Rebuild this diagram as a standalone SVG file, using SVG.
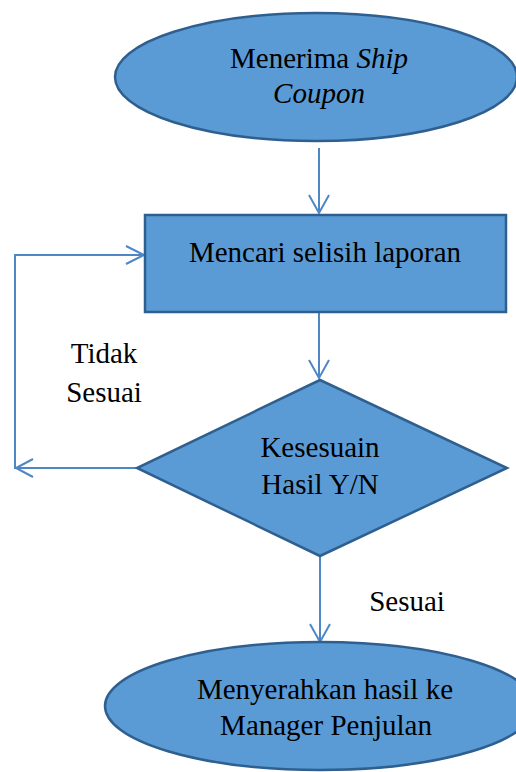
<svg xmlns="http://www.w3.org/2000/svg" width="516" height="772" viewBox="0 0 516 772">
  <style>
    .shape { fill: #5b9bd5; stroke: #2e5f8f; stroke-width: 2.5; }
    .conn { fill: none; stroke: #4f86c6; stroke-width: 2; }
    .head { fill: none; stroke: #4f86c6; stroke-width: 2; stroke-linejoin: miter; }
    .lbl { fill: #000; text-anchor: middle; }
  </style>

  <g font-family="'Liberation Serif', 'DejaVu Serif', serif" font-size="29">
  <!-- connectors -->
  <g id="connectors">
    <!-- start -> search -->
    <line class="conn" x1="319" y1="148" x2="319" y2="213"/>
    <polyline class="head" points="309,195 319,213 329,195"/>
    <!-- search -> decision -->
    <line class="conn" x1="319" y1="312" x2="319" y2="378"/>
    <polyline class="head" points="309,360 319,378 329,360"/>
    <!-- decision -> back to search (Tidak Sesuai) -->
    <polyline class="conn" points="137,468 15,468 15,255 144,255"/>
    <polyline class="head" points="33,459 16,468 33,477"/>
    <polyline class="head" points="126,246 144,255 126,264"/>
    <!-- decision -> handover (Sesuai) -->
    <line class="conn" x1="320" y1="557" x2="320" y2="642"/>
    <polyline class="head" points="310,624 320,642 330,624"/>
    <text class="lbl" x="104" y="363">Tidak</text>
    <text class="lbl" x="104" y="402">Sesuai</text>
    <text class="lbl" x="407" y="611">Sesuai</text>
  </g>

  <g id="start">
    <ellipse class="shape" cx="316" cy="77" rx="201" ry="64"/>
    <text class="lbl" x="319" y="68">Menerima <tspan font-style="italic">Ship</tspan></text>
    <text class="lbl" x="319" y="103" font-style="italic">Coupon</text>
  </g>

  <g id="search">
    <rect class="shape" x="145" y="215" width="361" height="97"/>
    <text class="lbl" x="325" y="262">Mencari selisih laporan</text>
  </g>

  <g id="decision">
    <polygon class="shape" points="320,380 507,468 320,556 137,468"/>
    <text class="lbl" x="320" y="457">Kesesuain</text>
    <text class="lbl" x="320" y="494">Hasil Y/N</text>
  </g>

  <g id="handover">
    <ellipse class="shape" cx="320" cy="706" rx="215" ry="64"/>
    <text class="lbl" x="325" y="699">Menyerahkan hasil ke</text>
    <text class="lbl" x="326" y="735">Manager Penjulan</text>
  </g>
  </g>
</svg>
